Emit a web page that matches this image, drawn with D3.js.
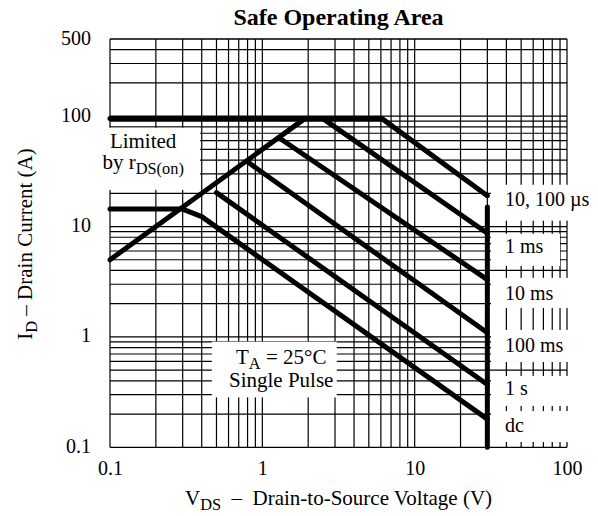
<!DOCTYPE html>
<html>
<head>
<meta charset="utf-8">
<script src="https://cdn.jsdelivr.net/npm/d3@7"></script>
<style>
  body { margin: 0; background: #fff; }
  svg text { font-family: "Liberation Serif", "Times New Roman", serif; fill: #000; }
</style>
</head>
<body>
<div id="chart"></div>
<script>
// tick labels
const xTickValues = [0.1, 1, 10, 100];
const yTickValues = [0.1, 1, 10, 100, 500];

// limited by rDS(on)
const rdsVds = [0.1, 1.9];
const rdsId = [5, 95];

// pulse limits, VDS (V) / ID (A)
const us10Vds = [0.1, 6.1, 30];
const us10Id = [95, 95, 19];
const ms1Vds = [2.5, 30];
const ms1Id = [95, 8.7];
const ms10Vds = [1.3, 30];
const ms10Id = [63, 3.3];
const ms100Vds = [0.79, 30];
const ms100Id = [39, 1.09];
const s1Vds = [0.5, 30];
const s1Id = [20.3, 0.37];
const dcVds = [0.1, 0.3, 0.4, 30];
const dcId = [14.4, 14.4, 12.3, 0.18];

// breakdown voltage limit
const bvVds = [30, 30];
const bvId = [15, 0.1];

const pulseLabels = ["10, 100 µs", "1 ms", "10 ms", "100 ms", "1 s", "dc"];

const W = 598, H = 516;
const margin = { top: 39, right: 31, bottom: 69, left: 110 };

const x = d3.scaleLog().domain([0.1, 100]).range([margin.left, W - margin.right]);
const y = d3.scaleLog().domain([0.1, 500]).range([H - margin.bottom + 0.3, margin.top]);

const svg = d3.select("#chart").append("svg")
  .attr("width", W)
  .attr("height", H);

// grid (frame included)
const grid = svg.append("g").attr("stroke", "#000").attr("stroke-width", 1.2);
grid.selectAll(".vx")
  .data(x.ticks())
  .join("line")
  .attr("x1", d => x(d)).attr("x2", d => x(d))
  .attr("y1", y(0.1)).attr("y2", y(500));
grid.selectAll(".hy")
  .data(y.ticks().concat([500]))
  .join("line")
  .attr("y1", d => y(d)).attr("y2", d => y(d))
  .attr("x1", x(0.1)).attr("x2", x(100));

// white boxes behind annotations
const masks = [
  { v: [0.086, 0.39], i: [21.5, 78.5] },
  { v: [0.466, 3.08], i: [0.283, 0.906] },
  { v: [31.7, 160], i: [11.3, 23.9] },
  { v: [31.7, 90], i: [4.4, 8.59] },
  { v: [31.7, 160], i: [1.83, 3.43] },
  { v: [31.7, 160], i: [0.593, 1.157] },
  { v: [31.7, 160], i: [0.237, 0.443] },
  { v: [31.7, 160], i: [0.1117, 0.213] }
];
svg.append("g").selectAll("rect")
  .data(masks)
  .join("rect")
  .attr("x", d => x(d.v[0]))
  .attr("y", d => y(d.i[1]))
  .attr("width", d => x(d.v[1]) - x(d.v[0]))
  .attr("height", d => y(d.i[0]) - y(d.i[1]))
  .attr("fill", "#fff");

// curves
const zip = (vs, is) => vs.map((v, k) => [v, is[k]]);
const curves = [
  zip(rdsVds, rdsId),
  zip(us10Vds, us10Id),
  zip(ms1Vds, ms1Id),
  zip(ms10Vds, ms10Id),
  zip(ms100Vds, ms100Id),
  zip(s1Vds, s1Id),
  zip(dcVds, dcId),
  zip(bvVds, bvId)
];
const line = d3.line().x(d => x(d[0])).y(d => y(d[1]));
svg.append("g").selectAll("path")
  .data(curves)
  .join("path")
  .attr("d", line)
  .attr("fill", "none")
  .attr("stroke", "#000")
  .attr("stroke-width", 5)
  .attr("stroke-linecap", "round")
  .attr("stroke-linejoin", "round");

// axes
const xAxis = svg.append("g")
  .attr("transform", `translate(0,${y(0.1)})`)
  .call(d3.axisBottom(x).tickValues(xTickValues).tickSize(0).tickPadding(0)
    .tickFormat(d3.format("~g")));
xAxis.select(".domain").remove();
xAxis.selectAll("text")
  .attr("y", 28).attr("dy", 0)
  .style("font-size", "20px")
  .style("font-family", '"Liberation Serif", serif');

const yAxis = svg.append("g")
  .attr("transform", `translate(${x(0.1)},0)`)
  .call(d3.axisLeft(y).tickValues(yTickValues).tickSize(0).tickPadding(19)
    .tickFormat(d3.format("~g")));
yAxis.select(".domain").remove();
yAxis.selectAll("text")
  .attr("dy", 5)
  .style("font-size", "20px")
  .style("font-family", '"Liberation Serif", serif');

// text with subscripts, one or more lines in a single <text>
// lines: [{y, parts: [[string, isSub], ...]}]
function label(px, lines, size, anchor, extra) {
  const t = svg.append("text")
    .attr("x", px).attr("y", lines[0].y)
    .attr("text-anchor", anchor || "start")
    .attr("font-size", size);
  if (extra) extra(t);
  lines.forEach(ln => {
    let prevSub = false;
    ln.parts.forEach(([s, sub], k) => {
      const sp = t.append("tspan").text(s)
        .attr("font-size", sub ? size * 0.78 : size);
      if (k === 0) sp.attr("x", px).attr("y", ln.y);
      sp.attr("dy", sub ? 5 : (prevSub ? -5 : 0));
      prevSub = sub;
    });
  });
  return t;
}

// title
svg.append("text")
  .attr("x", x(Math.sqrt(10)))
  .attr("y", 25)
  .attr("text-anchor", "middle")
  .attr("font-size", 24)
  .attr("font-weight", "bold")
  .text("Safe Operating Area");

// axis titles
label((margin.left + W - margin.right) / 2,
  [{ y: 505, parts: [["V", false], ["DS", true], ["\u2002\u2013\u2002Drain-to-Source Voltage (V)", false]] }],
  21, "middle");

label(0, [{ y: 0, parts: [["I", false], ["D", true], [" \u2013 Drain Current (A)", false]] }], 21, "middle",
  t => t.attr("transform", `translate(32,${(margin.top + H - margin.bottom) / 2 + 1}) rotate(-90)`));

// annotations
label(x(0.165), [
  { y: y(51), parts: [["Limited", false]] },
  { y: y(33.5), parts: [["by r", false], ["DS(on)", true]] }
], 21, "middle");
label(x(1.33), [
  { y: y(0.565), parts: [["T", false], ["A", true], [" = 25°C", false]] },
  { y: y(0.355), parts: [["Single Pulse", false]] }
], 21, "middle");

const labelId = [15.2, 5.77, 2.17, 0.736, 0.298, 0.138];
svg.append("g").selectAll("text")
  .data(pulseLabels)
  .join("text")
  .attr("x", x(39.2))
  .attr("y", (d, k) => y(labelId[k]))
  .attr("font-size", 20)
  .text(d => d);
</script>
</body>
</html>
